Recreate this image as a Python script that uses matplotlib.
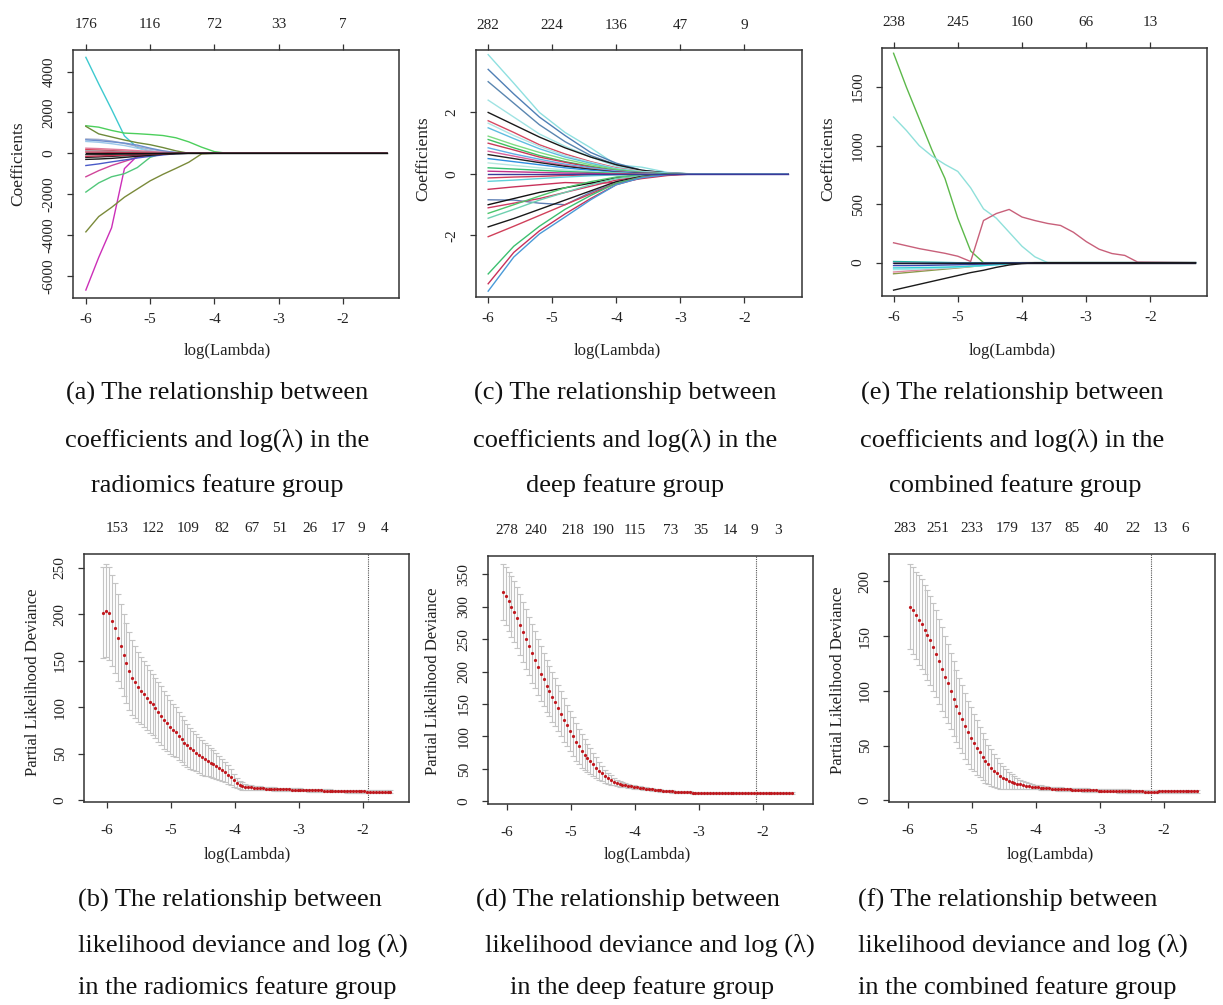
import numpy as np
import matplotlib
matplotlib.use("Agg")
import matplotlib.pyplot as plt
import matplotlib.transforms as mtransforms

plt.rcParams['font.family'] = ['Liberation Serif', 'DejaVu Serif']
plt.rcParams['axes.unicode_minus'] = False

W, H = 1223, 1005

# ---------------- coefficient paths (top row) ----------------
# (a) radiomics feature group
A_LOG_LAMBDA = [-6.0, -5.8, -5.6, -5.4, -5.2, -5.0, -4.8, -4.6, -4.4, -4.2, -4.0, -3.8, -1.32]
A_COEFS = [
    [4700, 3400, 2150, 850, 280, 100, 30, 0, 0, 0, 0, 0, 0],
    [1350, 1280, 1120, 990, 960, 920, 870, 760, 560, 300, 80, 0, 0],
    [1320, 950, 800, 650, 520, 420, 280, 120, 0, 0, 0, 0, 0],
    [700, 680, 600, 480, 330, 200, 100, 30, 0, 0, 0, 0, 0],
    [580, 540, 470, 380, 250, 120, 30, 0, 0, 0, 0, 0, 0],
    [660, 620, 560, 500, 400, 250, 120, 40, 0, 0, 0, 0, 0],
    [250, 230, 200, 170, 130, 90, 50, 20, 0, 0, 0, 0, 0],
    [180, 160, 130, 100, 70, 40, 15, 0, 0, 0, 0, 0, 0],
    [120, 110, 95, 80, 60, 40, 20, 5, 0, 0, 0, 0, 0],
    [60, 55, 45, 35, 25, 15, 5, 0, 0, 0, 0, 0, 0],
    [-6700, -5100, -3650, -750, -130, -60, 0, 0, 0, 0, 0, 0, 0],
    [-3850, -3100, -2650, -2150, -1750, -1350, -1030, -740, -440, -30, 0, 0, 0],
    [-1900, -1450, -1150, -1000, -700, -200, 0, 0, 0, 0, 0, 0, 0],
    [-1150, -850, -600, -400, -200, -80, 0, 0, 0, 0, 0, 0, 0],
    [-600, -520, -420, -330, -230, -150, -80, -20, 0, 0, 0, 0, 0],
    [-300, -280, -250, -200, -150, -100, -50, -20, 0, 0, 0, 0, 0],
    [-200, -180, -150, -120, -90, -60, -30, -10, 0, 0, 0, 0, 0],
    [-150, -130, -110, -90, -70, -40, -20, 0, 0, 0, 0, 0, 0],
    [-60, -55, -50, -40, -30, -20, -10, 0, 0, 0, 0, 0, 0],
    [0, 0, 0, 0, 0, 0, 0, 0, 0, 0, 0, 0, 0],
]
A_COLORS = ['#3ec9cf', '#4ccf5c', '#6e8a3a', '#a5adc8', '#9cc8ea', '#6b8fcf',
            '#e07a9a', '#d8405a', '#9e9e9e', '#d84060', '#cc2fb8', '#7a8a3a',
            '#52c77a', '#d0469a', '#4a5ac8', '#1a1a1a', '#222222', '#c8304f',
            '#333333', '#111111']
A_TOP_LABELS = ['176', '116', '72', '33', '7']

# (c) deep feature group
C_LOG_LAMBDA = [-6.0, -5.6, -5.2, -4.8, -4.4, -4.0, -3.6, -3.2, -2.8, -1.32]
C_COEFS = [
    [3.88, 2.95, 2.0, 1.35, 0.85, 0.3, 0.22, 0.05, 0, 0],
    [3.4, 2.6, 1.85, 1.25, 0.7, 0.35, 0.12, 0.03, 0, 0],
    [3.0, 2.3, 1.6, 1.05, 0.6, 0.3, 0.1, 0.02, 0, 0],
    [2.4, 1.85, 1.3, 0.9, 0.55, 0.25, 0.1, 0.02, 0, 0],
    [2.0, 1.6, 1.2, 0.85, 0.55, 0.3, 0.12, 0.03, 0, 0],
    [1.73, 1.35, 0.95, 0.65, 0.4, 0.2, 0.08, 0.02, 0, 0],
    [1.65, 1.25, 0.9, 0.6, 0.38, 0.18, 0.08, 0.03, 0, 0],
    [1.5, 1.15, 0.82, 0.55, 0.35, 0.16, 0.06, 0.02, 0, 0],
    [1.23, 0.95, 0.7, 0.48, 0.3, 0.15, 0.05, 0, 0, 0],
    [1.12, 0.85, 0.6, 0.4, 0.25, 0.12, 0.04, 0, 0, 0],
    [1.0, 0.78, 0.55, 0.38, 0.22, 0.1, 0.03, 0, 0, 0],
    [0.85, 0.65, 0.48, 0.32, 0.2, 0.1, 0.03, 0, 0, 0],
    [0.74, 0.58, 0.42, 0.28, 0.16, 0.07, 0.02, 0, 0, 0],
    [0.63, 0.5, 0.37, 0.25, 0.15, 0.06, 0.02, 0, 0, 0],
    [0.5, 0.4, 0.3, 0.2, 0.12, 0.05, 0.01, 0, 0, 0],
    [0.36, 0.28, 0.2, 0.13, 0.08, 0.03, 0, 0, 0, 0],
    [0.2, 0.16, 0.12, 0.08, 0.05, 0.02, 0, 0, 0, 0],
    [0.09, 0.07, 0.05, 0.03, 0.02, 0, 0, 0, 0, 0],
    [-0.13, -0.1, -0.08, -0.05, -0.03, -0.01, 0, 0, 0, 0],
    [-0.24, -0.2, -0.15, -0.1, -0.06, -0.03, -0.01, 0, 0, 0],
    [-0.5, -0.42, -0.35, -0.28, -0.3, -0.28, -0.15, -0.05, 0, 0],
    [-0.84, -0.85, -0.95, -1.0, -0.6, -0.3, -0.1, -0.02, 0, 0],
    [-1.0, -0.8, -0.6, -0.45, -0.3, -0.12, -0.04, 0, 0, 0],
    [-1.1, -0.95, -0.8, -0.6, -0.4, -0.2, -0.08, -0.02, 0, 0],
    [-1.28, -1.0, -0.72, -0.45, -0.25, -0.1, -0.03, 0, 0, 0],
    [-1.44, -1.15, -0.85, -0.6, -0.35, -0.15, -0.05, 0, 0, 0],
    [-1.72, -1.45, -1.15, -0.85, -0.55, -0.25, -0.08, 0, 0, 0],
    [-2.04, -1.7, -1.35, -1.0, -0.65, -0.3, -0.1, -0.02, 0, 0],
    [-3.25, -2.35, -1.7, -1.15, -0.7, -0.3, -0.1, 0, 0, 0],
    [-3.57, -2.55, -1.85, -1.3, -0.8, -0.35, -0.12, -0.02, 0, 0],
    [-3.81, -2.7, -1.95, -1.4, -0.84, -0.35, -0.12, -0.02, 0, 0],
    [0, 0, 0, 0, 0, 0, 0, 0, 0, 0],
]
C_COLORS = ['#8fe0e0', '#4f7fb5', '#5a86b0', '#9fe3e3', '#1a1a1a', '#d84a63',
            '#aee6e6', '#5fbde0', '#7fdc84', '#3fbf5f', '#c83a5a', '#5fb0e6',
            '#d9609a', '#222222', '#2f8fe0', '#b8e8e0', '#35c070', '#c02f8a',
            '#d23c5c', '#60d0d8', '#c8325a', '#5e7fb5', '#111111', '#cf3a63',
            '#4cc56b', '#6ed0b0', '#1a1a1a', '#d0405a', '#3cc070', '#c8305a',
            '#4a9ad8', '#3a3a9a']
C_TOP_LABELS = ['282', '224', '136', '47', '9']

# (e) combined feature group
E_LOG_LAMBDA = [-6.0, -5.8, -5.6, -5.4, -5.2, -5.0, -4.8, -4.6, -4.4, -4.2, -4.0,
                -3.8, -3.6, -3.4, -3.2, -3.0, -2.8, -2.6, -2.4, -2.2, -1.3]
E_COEFS = [
    [1790, 1500, 1230, 960, 720, 380, 100, 0, 0, 0, 0, 0, 0, 0, 0, 0, 0, 0, 0, 0, 0],
    [1245, 1130, 1000, 910, 840, 780, 640, 460, 380, 260, 140, 50, 0, 0, 0, 0, 0, 0, 0, 0, 0],
    [170, 145, 120, 100, 80, 55, 10, 360, 420, 455, 390, 360, 335, 318, 260, 180, 115, 78, 62, 5, 0],
    [-95, -85, -75, -65, -55, -45, -35, -22, -10, -3, 0, 0, 0, 0, 0, 0, 0, 0, 0, 0, 0],
    [-80, -72, -64, -56, -48, -40, -30, -20, -10, -3, 0, 0, 0, 0, 0, 0, 0, 0, 0, 0, 0],
    [-60, -57, -54, -50, -46, -40, -33, -25, -16, -8, -2, 0, 0, 0, 0, 0, 0, 0, 0, 0, 0],
    [-45, -44, -42, -40, -38, -35, -30, -25, -18, -10, -3, 0, 0, 0, 0, 0, 0, 0, 0, 0, 0],
    [-25, -25, -24, -22, -20, -18, -15, -12, -8, -5, -2, 0, 0, 0, 0, 0, 0, 0, 0, 0, 0],
    [10, 8, 6, 4, 2, 0, 0, 0, 0, 0, 0, 0, 0, 0, 0, 0, 0, 0, 0, 0, 0],
    [-5, -5, -5, -5, -5, -4, -4, -3, -3, -2, -2, -1, -1, -1, 0, 0, 0, 0, 0, 0, 0],
    [-235, -210, -185, -160, -135, -110, -85, -65, -40, -20, -8, -2, 0, 0, 0, 0, 0, 0, 0, 0, 0],
    [0, 0, 0, 0, 0, 0, 0, 0, 0, 0, 0, 0, 0, 0, 0, 0, 0, 0, 0, 0, 0],
]
E_COLORS = ['#5cb84a', '#8fe0da', '#c8607a', '#8a9a4a', '#e08aa0', '#a0e8e8',
            '#30d0d8', '#3a4ab0', '#20b0a0', '#3a2a6a', '#1a1a1a', '#1a1a2a']
E_TOP_LABELS = ['238', '245', '160', '66', '13']

# ---------------- cross-validation curves (bottom row) ----------------
# (b) radiomics feature group
B_LOG_LAMBDA = np.linspace(-6.06, -1.57, 100)
B_MEAN = [202, 204, 201, 193, 185, 175, 166, 156, 148, 139,
          132, 127, 122, 118, 114, 110, 106, 103, 99, 95,
          91, 86, 83, 79, 76, 73, 69, 66, 62, 59,
          56, 53.5, 51, 48.5, 46, 44, 42.5, 40.5, 39, 37,
          35, 32.5, 30, 27.5, 24.5, 21.5, 18.5, 16.5, 15.2, 14.5,
          14, 13.7, 13.4, 13.1, 12.9, 12.7, 12.5, 12.3, 12.1, 12.0,
          11.9, 11.8, 11.7, 11.6, 11.5, 11.4, 11.3, 11.2, 11.1, 11.0,
          10.9, 10.8, 10.7, 10.6, 10.5, 10.4, 10.3, 10.2, 10.1, 10.0,
          9.9, 9.8, 9.7, 9.7, 9.6, 9.6, 9.5, 9.5, 9.4, 9.4,
          9.4, 9.3, 9.3, 9.3, 9.3, 9.3, 9.3, 9.3, 9.3, 9.3]
B_SD = [48.5, 50, 50, 49, 48.5, 47, 45, 44, 43, 42,
        40, 39, 37.5, 36.5, 35.5, 35, 34, 33, 32.5, 32,
        31.5, 31, 30, 29, 28, 27, 26, 25, 24, 23,
        22, 21, 20, 19.5, 18.5, 18, 17, 16, 15, 14,
        13, 12, 11, 10, 8.5, 7, 5.5, 4.5, 3.8, 3.2,
        2.8, 2.5, 2.3, 2.1, 2.0, 1.9, 1.8, 1.8, 1.7, 1.7,
        1.7, 1.6, 1.6, 1.6, 1.6, 1.5, 1.5, 1.5, 1.5, 1.5,
        1.5, 1.5, 1.4, 1.4, 1.4, 1.4, 1.4, 1.4, 1.4, 1.4,
        1.4, 1.4, 1.4, 1.4, 1.4, 1.4, 1.4, 1.4, 1.4, 1.4,
        1.4, 1.4, 1.4, 1.4, 1.4, 1.4, 1.4, 1.4, 1.4, 1.4]
B_TOP_POS = [-5.84, -5.28, -4.73, -4.20, -3.73, -3.30, -2.83, -2.39, -2.03, -1.66]
B_TOP_LABELS = ['153', '122', '109', '82', '67', '51', '26', '17', '9', '4']
B_VLINE = -1.92

# (d) deep feature group
D_LOG_LAMBDA = np.linspace(-6.07, -1.55, 100)
D_MEAN = [323, 316, 308, 300, 292, 283, 272, 261, 250, 239,
          228, 218, 207, 197, 188, 178, 170, 161, 153, 144,
          135, 126, 117, 108, 100, 92, 85, 78, 72, 67,
          62, 57, 52, 47, 43, 39, 36, 33, 30.5, 28.5,
          27, 26, 25, 24, 23, 22.2, 21.5, 20.8, 20.2, 19.6,
          19.0, 18.5, 18.0, 17.5, 17.0, 16.6, 16.2, 15.8, 15.4, 15.1,
          14.8, 14.5, 14.2, 14.0, 13.8, 13.6, 13.4, 13.2, 13.1, 13.0,
          12.9, 12.8, 12.8, 12.7, 12.7, 12.6, 12.6, 12.6, 12.5, 12.5,
          12.5, 12.4, 12.4, 12.4, 12.4, 12.3, 12.3, 12.3, 12.3, 12.3,
          12.3, 12.3, 12.3, 12.3, 12.3, 12.3, 12.3, 12.3, 12.3, 12.3]
D_SD = [43, 45, 46, 47, 47, 47, 47, 46, 46, 45,
        45, 44, 43, 42, 41, 40, 39, 38, 37, 36,
        35, 34, 32, 31, 30, 29, 27, 26, 24, 22,
        20, 18, 16, 14, 12, 10, 8.5, 7, 6, 5,
        4.3, 3.8, 3.4, 3.0, 2.7, 2.5, 2.3, 2.2, 2.1, 2.0,
        1.9, 1.9, 1.8, 1.8, 1.8, 1.7, 1.7, 1.7, 1.7, 1.6,
        1.6, 1.6, 1.6, 1.6, 1.6, 1.6, 1.6, 1.6, 1.6, 1.6,
        1.6, 1.6, 1.6, 1.6, 1.6, 1.6, 1.6, 1.6, 1.6, 1.6,
        1.6, 1.6, 1.6, 1.6, 1.6, 1.6, 1.6, 1.6, 1.6, 1.6,
        1.6, 1.6, 1.6, 1.6, 1.6, 1.6, 1.6, 1.6, 1.6, 1.6]
D_TOP_POS = [-6.0, -5.56, -4.98, -4.5, -4.0, -3.44, -2.98, -2.52, -2.14, -1.77]
D_TOP_LABELS = ['278', '240', '218', '190', '115', '73', '35', '14', '9', '3']
D_VLINE = -2.11

# (f) combined feature group
F_LOG_LAMBDA = np.linspace(-5.97, -1.48, 100)
F_MEAN = [177, 173.5, 169, 165, 161, 156, 151, 146, 140, 134,
          127, 120, 113, 107, 100, 93, 86, 80, 74, 68,
          62, 57, 52.5, 48, 44, 40, 36, 33, 30, 27,
          25, 22.5, 20.8, 19.4, 18, 17, 16, 15.2, 14.5, 14.0,
          13.4, 12.9, 12.5, 12.2, 12.0, 11.7, 11.5, 11.2, 11.0, 10.8,
          10.6, 10.5, 10.3, 10.2, 10.1, 10.0, 9.9, 9.8, 9.7, 9.6,
          9.5, 9.4, 9.3, 9.2, 9.1, 9.0, 9.0, 8.9, 8.8, 8.8,
          8.7, 8.7, 8.6, 8.6, 8.5, 8.5, 8.4, 8.4, 8.3, 8.2,
          8.1, 8.0, 8.0, 7.9, 7.9, 8.0, 8.1, 8.2, 8.2, 8.3,
          8.3, 8.3, 8.3, 8.3, 8.3, 8.3, 8.3, 8.3, 8.3, 8.3]
F_SD = [39, 40, 40, 41, 41, 41, 41, 41, 40, 40,
        39, 38, 37, 36, 35, 34, 33, 32, 31, 30,
        29, 28, 26, 25, 23, 21.5, 20, 18, 16.5, 15,
        13.5, 12, 10.5, 9, 8, 7, 6, 5, 4.3, 3.7,
        3.2, 2.8, 2.5, 2.2, 2.0, 1.9, 1.8, 1.7, 1.6, 1.5,
        1.5, 1.5, 1.5, 1.5, 1.5, 1.5, 1.5, 1.5, 1.5, 1.5,
        1.5, 1.5, 1.5, 1.5, 1.5, 1.5, 1.5, 1.5, 1.5, 1.5,
        1.5, 1.5, 1.5, 1.5, 1.5, 1.5, 1.5, 1.5, 1.5, 1.5,
        1.5, 1.5, 1.5, 1.5, 1.5, 1.5, 1.5, 1.5, 1.5, 1.5,
        1.5, 1.5, 1.5, 1.5, 1.5, 1.5, 1.5, 1.5, 1.5, 1.5]
F_TOP_POS = [-6.06, -5.53, -5.0, -4.45, -3.92, -3.44, -2.97, -2.48, -2.05, -1.67]
F_TOP_LABELS = ['283', '251', '233', '179', '137', '85', '40', '22', '13', '6']
F_VLINE = -2.20

# ---------------- captions ----------------
CAP_A = ['(a) The relationship between', 'coefficients and log(\u03bb) in the', 'radiomics feature group']
CAP_C = ['(c) The relationship between', 'coefficients and log(\u03bb) in the', 'deep feature group']
CAP_E = ['(e) The relationship between', 'coefficients and log(\u03bb) in the', 'combined feature group']
CAP_B = ['(b) The relationship between', 'likelihood deviance and log (\u03bb)', 'in the radiomics feature group']
CAP_D = ['(d) The relationship between', 'likelihood deviance and log (\u03bb)', 'in the deep feature group']
CAP_F = ['(f) The relationship between', 'likelihood deviance and log (\u03bb)', 'in the combined feature group']

LAMBDA_TICKS = [-6, -5, -4, -3, -2]

fig = plt.figure(figsize=(W / 100, H / 100), dpi=100)


def px_axes(left, top, right, bottom):
    return fig.add_axes([left / W, 1 - bottom / H, (right - left) / W, (bottom - top) / H])


def fig_text(x, y, s, **kw):
    fig.text(x / W, 1 - y / H, s, **kw)


def style(ax, xlim, ylim, yticks, xpad, top_ticks):
    ax.set_xlim(*xlim)
    ax.set_ylim(*ylim)
    ax.set_xticks(LAMBDA_TICKS)
    ax.set_yticks(yticks)
    for sp in ax.spines.values():
        sp.set_linewidth(1.1)
        sp.set_color('#333333')
    ax.tick_params(direction='out', length=4.5, width=0.9, labelsize=11,
                   color='#333333', labelcolor='#222222')
    ax.tick_params(axis='x', pad=xpad, top=top_ticks, labeltop=False)
    ax.tick_params(axis='y', pad=8, labelrotation=90)
    for t in ax.get_yticklabels():
        t.set_va('center')


def top_labels(ax, pos, labels):
    trans = mtransforms.blended_transform_factory(ax.transData, ax.transAxes)
    for p, s in zip(pos, labels):
        ax.text(p, 1.101, s, transform=trans, ha='center', va='center',
                fontsize=11, color='#222222')


def coef_panel(box, xgrid, coefs, colors, labels, xlim, ylim, yticks):
    ax = px_axes(*box)
    for row, c in zip(coefs, colors):
        ax.plot(xgrid, row, color=c, lw=1.0)
    style(ax, xlim, ylim, yticks, 6.5, True)
    top_labels(ax, LAMBDA_TICKS, labels)
    return ax


def cv_panel(box, x, mean, sd, vline, pos, labels, xlim, ylim, yticks):
    ax = px_axes(*box)
    ax.errorbar(x, mean, yerr=sd, fmt='none', ecolor='#c4c4c4',
                elinewidth=0.8, capsize=2.2, capthick=0.8, zorder=2)
    ax.plot(x, mean, 'o', ms=2.3, color='#c0181e', mec='none', zorder=3)
    ax.axvline(vline, color='#555555', ls=(0, (1, 1)), lw=0.8, zorder=1)
    style(ax, xlim, ylim, yticks, 11, False)
    top_labels(ax, pos, labels)
    return ax


# top row
coef_panel((73, 50, 399, 298), A_LOG_LAMBDA, A_COEFS, A_COLORS, A_TOP_LABELS,
           (-6.2, -1.13), (-7090, 5060), [-6000, -4000, -2000, 0, 2000, 4000])
coef_panel((476, 50, 802, 297), C_LOG_LAMBDA, C_COEFS, C_COLORS, C_TOP_LABELS,
           (-6.19, -1.10), (-4.0, 4.03), [-2, 0, 2])
coef_panel((882, 48, 1207, 296), E_LOG_LAMBDA, E_COEFS, E_COLORS, E_TOP_LABELS,
           (-6.18, -1.12), (-285, 1835), [0, 500, 1000, 1500])

# bottom row
cv_panel((84, 554, 409, 802), B_LOG_LAMBDA, B_MEAN, B_SD, B_VLINE, B_TOP_POS, B_TOP_LABELS,
         (-6.36, -1.28), (-2, 265), [0, 50, 100, 150, 200, 250])
cv_panel((488, 556, 813, 804), D_LOG_LAMBDA, D_MEAN, D_SD, D_VLINE, D_TOP_POS, D_TOP_LABELS,
         (-6.30, -1.22), (-4, 378), [0, 50, 100, 150, 200, 250, 300, 350])
cv_panel((889, 554, 1215, 802), F_LOG_LAMBDA, F_MEAN, F_SD, F_VLINE, F_TOP_POS, F_TOP_LABELS,
         (-6.30, -1.20), (-1.5, 225), [0, 50, 100, 150, 200])

# axis titles
for x, y in [(227, 351), (617, 351), (1012, 351), (247, 855), (647, 855), (1050, 855)]:
    fig_text(x, y, 'log(Lambda)', ha='center', va='center', fontsize=12, color='#222222')
for x, y in [(18, 164), (423, 159), (828, 159)]:
    fig_text(x, y, 'Coefficients', ha='center', va='center', rotation=90, fontsize=12.5,
             color='#222222')
for x, y in [(33, 682), (433, 681), (838, 680)]:
    fig_text(x, y, 'Partial Likelihood Deviance', ha='center', va='center', rotation=90,
             fontsize=12, color='#222222')

# captions
TOP_ROWS = [393, 440, 486]
BOTTOM_ROWS = [900, 945, 988]
caption_specs = [
    (CAP_A, TOP_ROWS, [217, 217, 217], 'center'),
    (CAP_C, TOP_ROWS, [625, 625, 625], 'center'),
    (CAP_E, TOP_ROWS, [1012, 1012, 1015], 'center'),
    (CAP_B, BOTTOM_ROWS, [78, 78, 78], 'left'),
    (CAP_D, BOTTOM_ROWS, [628, 650, 642], 'center'),
    (CAP_F, BOTTOM_ROWS, [858, 858, 858], 'left'),
]
for lines, ys, xs, ha in caption_specs:
    for s, x, y in zip(lines, xs, ys):
        fig_text(x, y, s, ha=ha, va='center', fontsize=19, color='#111111')

fig.savefig('out.png', dpi=100, facecolor='white')
